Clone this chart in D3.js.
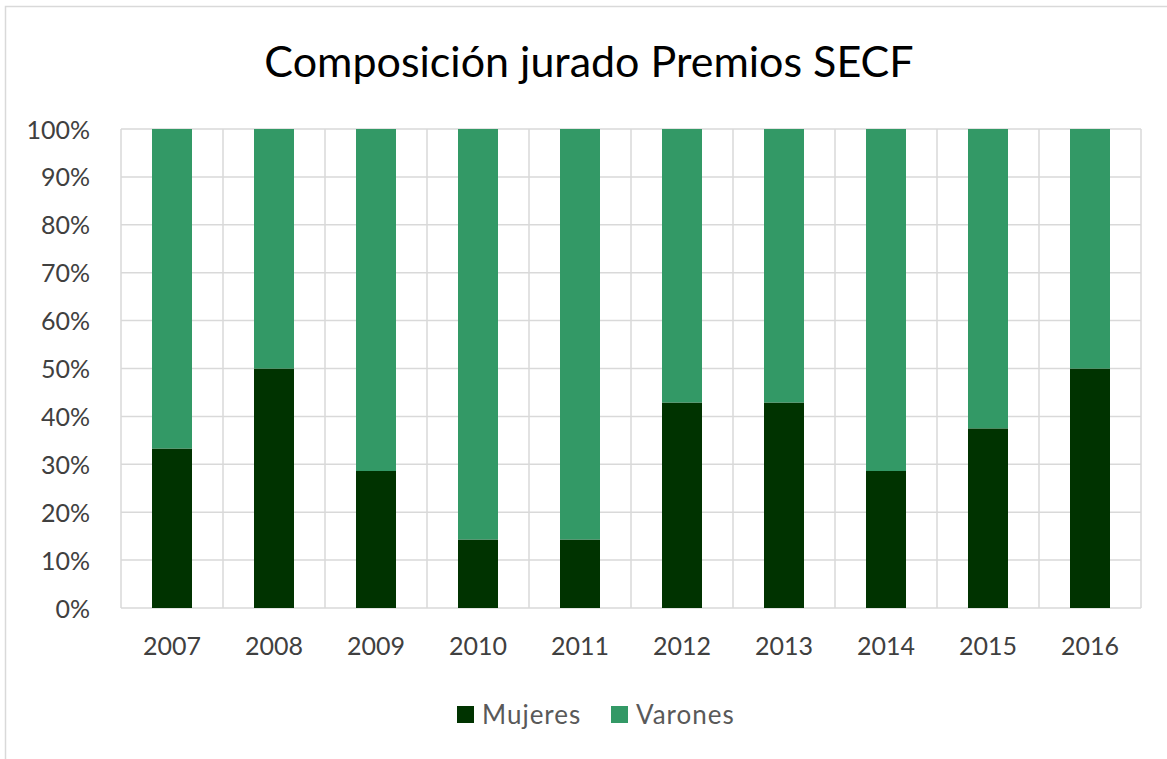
<!DOCTYPE html>
<html>
<head>
<meta charset="utf-8">
<script src="https://cdn.jsdelivr.net/npm/d3@7"></script>
<style>
  body { margin: 0; background: #fff; }
  svg { display: block; font-family: Lato, "Open Sans", sans-serif; }
</style>
</head>
<body>
<script>
var years = ["2007", "2008", "2009", "2010", "2011", "2012", "2013", "2014", "2015", "2016"];
var mujeres = [33.3, 50, 28.6, 14.3, 14.3, 42.9, 42.9, 28.6, 37.5, 50];
var varones = [66.7, 50, 71.4, 85.7, 85.7, 57.1, 57.1, 71.4, 62.5, 50];
var seriesNames = ["Mujeres", "Varones"];
var seriesColors = ["#003300", "#339966"];
var yTicks = [0, 10, 20, 30, 40, 50, 60, 70, 80, 90, 100];

var width = 1167, height = 759;
var margin = { top: 129, right: 26, bottom: 151, left: 121 };

var svg = d3.select("body").append("svg")
    .attr("width", width)
    .attr("height", height);

// outer chart border
svg.append("rect")
    .attr("x", 5.5).attr("y", 6.5)
    .attr("width", width + 10).attr("height", height + 10)
    .attr("fill", "#fff")
    .attr("stroke", "#d9d9d9")
    .attr("stroke-width", 1.5);

svg.append("text")
    .attr("x", 589).attr("y", 77)
    .attr("text-anchor", "middle")
    .attr("font-size", 43)
    .attr("fill", "#000")
    .text("Composición jurado Premios SECF");

var table = years.map(function (y, i) {
    return { year: y, Mujeres: mujeres[i], Varones: varones[i] };
});
var stacked = d3.stack().keys(seriesNames)(table);

var x = d3.scaleBand()
    .domain(years)
    .range([margin.left, width - margin.right]);

var y = d3.scaleLinear()
    .domain([0, 100])
    .range([height - margin.bottom, margin.top]);

var grid = svg.append("g").attr("stroke", "#d9d9d9").attr("stroke-width", 1.5);

grid.selectAll("line.h")
    .data(yTicks)
    .enter().append("line")
    .attr("x1", margin.left).attr("x2", width - margin.right)
    .attr("y1", function (d) { return y(d); })
    .attr("y2", function (d) { return y(d); });

var vlines = years.map(function (d) { return x(d); }).concat([x.range()[1]]);
grid.selectAll("line.v")
    .data(vlines)
    .enter().append("line")
    .attr("x1", function (d) { return d; }).attr("x2", function (d) { return d; })
    .attr("y1", y(0)).attr("y2", y(100));

var barW = 40;
svg.append("g").selectAll("g")
    .data(stacked)
    .enter().append("g")
    .attr("fill", function (d, i) { return seriesColors[i]; })
    .selectAll("rect")
    .data(function (d) { return d; })
    .enter().append("rect")
    .attr("x", function (d) { return x(d.data.year) + x.bandwidth() / 2 - barW / 2; })
    .attr("width", barW)
    .attr("y", function (d) { return y(d[1]); })
    .attr("height", function (d) { return y(d[0]) - y(d[1]); });

// y axis labels
svg.append("g")
    .attr("transform", "translate(" + (margin.left - 28) + ",0)")
    .call(d3.axisLeft(y).tickValues(yTicks).tickSize(0).tickFormat(function (d) { return d + "%"; }))
    .call(function (g) {
        g.select(".domain").remove();
        g.selectAll("text")
            .attr("font-size", 25)
            .attr("font-family", "Lato, sans-serif")
            .attr("fill", "#404040")
            .attr("dy", "0.36em");
    });

// x axis labels
svg.append("g")
    .attr("transform", "translate(0," + (height - margin.bottom + 25) + ")")
    .call(d3.axisBottom(x).tickSize(0))
    .call(function (g) {
        g.select(".domain").remove();
        g.selectAll("text")
            .attr("font-size", 25)
            .attr("font-family", "Lato, sans-serif")
            .attr("fill", "#404040")
            .attr("dy", "0.75em");
    });

// legend
var legendX = [457, 611];
var legend = svg.append("g").selectAll("g")
    .data(seriesNames)
    .enter().append("g")
    .attr("transform", function (d, i) { return "translate(" + legendX[i] + ",706)"; });

legend.append("rect")
    .attr("width", 17).attr("height", 17)
    .attr("fill", function (d, i) { return seriesColors[i]; });

legend.append("text")
    .attr("x", 25).attr("y", 18)
    .attr("font-size", 26)
    .attr("letter-spacing", 1)
    .attr("fill", "#595959")
    .text(function (d) { return d; });
</script>
</body>
</html>
